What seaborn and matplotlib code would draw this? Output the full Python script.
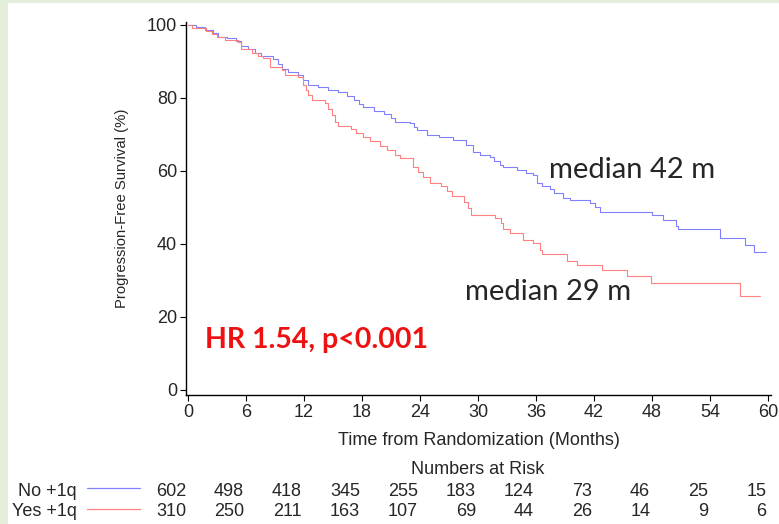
import numpy as np
import pandas as pd
import seaborn as sns
import matplotlib.pyplot as plt
from matplotlib.patches import Rectangle
from matplotlib.lines import Line2D
from matplotlib.transforms import blended_transform_factory

# Kaplan-Meier step points (time in months, survival in %)
no_time = [0, 0.8, 1.8, 2.6, 3.1, 4.0, 5.0, 5.5, 6.2, 6.9, 7.6, 8.8, 9.3, 9.7, 10.4,
           11.4, 11.9, 12.4, 13.5, 14.5, 15.5, 16.4, 17.2, 17.7, 18.1, 19.2, 20.3,
           21.0, 21.4, 23.0, 23.4, 23.7, 24.7, 26.0, 27.4, 28.8, 29.5, 30.2, 31.2,
           31.7, 32.3, 32.6, 34.0, 35.0, 35.7, 36.1, 36.6, 37.4, 37.9, 38.8, 39.5,
           41.6, 42.1, 42.6, 48.0, 49.1, 50.5, 50.7, 55.0, 57.6, 58.5, 59.8]
no_surv = [100, 99.4, 98.6, 97.8, 96.8, 96.3, 95.7, 94.2, 93.3, 92.2, 91.5, 90.6, 89.2,
           87.9, 87.2, 86.3, 85.0, 83.6, 82.9, 82.3, 81.5, 80.4, 79.5, 78.4, 77.6, 76.3,
           75.5, 74.5, 73.5, 73.0, 72.0, 71.2, 69.9, 69.4, 68.5, 67.1, 65.3, 64.4, 63.9,
           62.8, 61.6, 61.2, 60.3, 59.5, 58.9, 56.6, 55.9, 55.0, 53.9, 52.5, 52.1, 51.1,
           50.0, 48.7, 47.9, 46.6, 44.8, 44.0, 41.6, 39.8, 37.7, 37.7]

yes_time = [0, 0.4, 1.9, 2.5, 3.0, 3.8, 5.2, 5.5, 6.6, 7.2, 7.8, 8.5, 9.7, 10.0, 11.4,
            11.9, 12.2, 12.4, 12.8, 14.2, 14.5, 14.9, 15.2, 15.5, 16.9, 17.4, 18.1,
            18.8, 19.9, 20.6, 21.4, 21.9, 23.3, 23.8, 24.3, 25.0, 26.2, 26.8, 27.3,
            28.5, 29.0, 29.3, 31.8, 32.4, 32.6, 33.3, 34.7, 35.7, 36.4, 36.6, 39.2,
            40.2, 42.8, 45.4, 47.9, 57.1, 59.2]
yes_surv = [100, 99.1, 98.4, 97.6, 96.8, 95.9, 95.2, 93.3, 92.2, 91.5, 90.8, 88.6, 87.7,
            86.3, 85.8, 83.6, 82.2, 80.8, 79.5, 78.6, 77.0, 75.3, 73.5, 72.3, 71.4, 70.3,
            69.3, 68.3, 66.7, 65.6, 64.4, 63.4, 61.2, 59.6, 58.4, 56.6, 55.9, 54.5, 53.0,
            51.6, 49.8, 47.9, 47.2, 45.8, 44.2, 42.9, 41.1, 40.2, 38.4, 37.2, 35.3, 34.1,
            32.9, 31.2, 29.2, 25.8, 25.8]

group_names = ["No +1q", "Yes +1q"]
group_colors = ["#8080ff", "#ff8080"]

risk_times = [0, 6, 12, 18, 24, 30, 36, 42, 48, 54, 60]
no_risk = [602, 498, 418, 345, 255, 183, 124, 73, 46, 25, 15]
yes_risk = [310, 250, 211, 163, 107, 69, 44, 26, 14, 9, 6]

x_ticks = list(range(0, 61, 6))
y_ticks = [0, 20, 40, 60, 80, 100]

df = pd.concat([
    pd.DataFrame({"time": no_time, "surv": no_surv, "group": group_names[0]}),
    pd.DataFrame({"time": yes_time, "surv": yes_surv, "group": group_names[1]}),
])

sns.set_style("white")
plt.rcParams["font.family"] = ["Liberation Sans", "DejaVu Sans"]

W, H = 779, 524
fig = plt.figure(figsize=(W / 100, H / 100), dpi=100)
fig.patch.set_facecolor("#e3efdb")
fig.patches.append(Rectangle((8 / W, 0), 1, 1 - 3 / H, transform=fig.transFigure,
                             facecolor="white", edgecolor="none", zorder=-10))

ax = fig.add_axes([186 / W, 1 - 395 / H, (771 - 186) / W, (395 - 22) / H])
ax.set_facecolor("none")

sns.lineplot(data=df, x="time", y="surv", hue="group", palette=group_colors,
             drawstyle="steps-post", estimator=None, sort=False, legend=False,
             linewidth=0.8, ax=ax)

ax.set_xlim(-0.2, 60.3)
ax.set_ylim(-1.4, 100.8)
ax.set_xticks(x_ticks)
ax.set_yticks(y_ticks)
ax.tick_params(axis="both", direction="out", length=4, width=0.8, color="black",
               labelsize=13, pad=2.5, left=True, bottom=True)
for side in ["top", "right"]:
    ax.spines[side].set_visible(False)
for side in ["left", "bottom"]:
    ax.spines[side].set_color("black")
    ax.spines[side].set_linewidth(1.0)

ax.set_xlabel("Time from Randomization (Months)", fontsize=13, labelpad=8)
ax.set_ylabel("Progression-Free Survival (%)", fontsize=10.7, labelpad=13)

# Annotations
ax.text(37.3, 60.3, "median 42 m", fontsize=21, family=["Lato", "DejaVu Sans"],
        ha="left", va="center")
ax.text(28.65, 26.8, "median 29 m", fontsize=21, family=["Lato", "DejaVu Sans"],
        ha="left", va="center")
ax.text(1.76, 13.8, "HR 1.54, p<0.001", fontsize=20.5, fontweight="bold", color="#ee1111",
        family=["Lato", "DejaVu Sans"], ha="left", va="center")

# Numbers at risk table
tr = blended_transform_factory(ax.transData, fig.transFigure)
fig.text(478 / W, 1 - 469 / H, "Numbers at Risk", ha="center", va="center", fontsize=13)
rows = [(no_risk, 1 - 491 / H), (yes_risk, 1 - 512 / H)]
for (counts, ypos), name, col in zip(rows, group_names, group_colors):
    fig.text(77 / W, ypos, name, ha="right", va="center", fontsize=13)
    fig.lines.append(Line2D([87 / W, 140 / W], [ypos + 3 / H, ypos + 3 / H],
                            transform=fig.transFigure, color=col, linewidth=0.9))
    for t, n in zip(risk_times, counts):
        ax.text(t - 0.2, ypos, str(n), transform=tr, ha="right", va="center",
                fontsize=13, clip_on=False)

fig.savefig("out.png", dpi=100, facecolor=fig.get_facecolor())
